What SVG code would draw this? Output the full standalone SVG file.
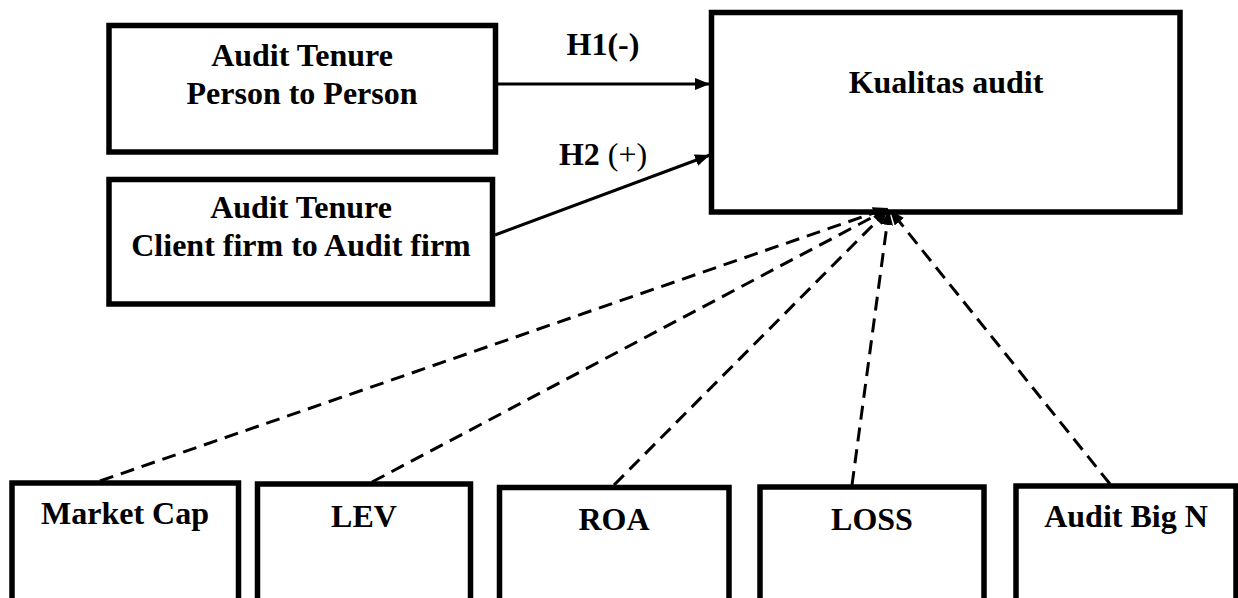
<svg xmlns="http://www.w3.org/2000/svg" width="1238" height="598" viewBox="0 0 1238 598">
<style>
.box{fill:#fff;stroke:#000;stroke-width:5.5}
.t{font-family:'Liberation Serif','Times New Roman','DejaVu Serif',serif;font-weight:700;font-size:32px;fill:#000;text-anchor:middle}
.solid{stroke:#000;stroke-width:3;fill:none}
.dash{stroke:#000;stroke-width:3;fill:none;stroke-dasharray:14 8}
</style>
<defs>
<marker id="ah" markerUnits="userSpaceOnUse" markerWidth="16" markerHeight="12" refX="15" refY="6" orient="auto">
<path d="M0,0 L15,6 L0,12 Z" fill="#000"/>
</marker>
</defs>
<rect width="1238" height="598" fill="#fff"/>
<g id="node-p2p">
<rect class="box" x="109" y="25.5" width="386.5" height="126.5"/>
<text class="t" x="302" y="66" font-family="Liberation Serif, serif">Audit Tenure</text>
<text class="t" x="302" y="104" font-family="Liberation Serif, serif">Person to Person</text>
</g>
<g id="node-c2a">
<rect class="box" x="109" y="179.5" width="383.5" height="124.5"/>
<text class="t" x="301" y="218">Audit Tenure</text>
<text class="t" x="301" y="256">Client firm to Audit firm</text>
</g>
<g id="node-kualitas">
<rect class="box" x="711.5" y="12.5" width="468.5" height="199.5"/>
<text class="t" x="946" y="93">Kualitas audit</text>
</g>
<g id="node-mcap">
<rect class="box" x="12" y="483" width="226.5" height="130"/>
<text class="t" x="125" y="524">Market Cap</text>
</g>
<g id="node-lev">
<rect class="box" x="257.5" y="484" width="213" height="130"/>
<text class="t" x="364" y="527">LEV</text>
</g>
<g id="node-roa">
<rect class="box" x="499.5" y="487.5" width="229.5" height="130"/>
<text class="t" x="614" y="530">ROA</text>
</g>
<g id="node-loss">
<rect class="box" x="760" y="487" width="224" height="130"/>
<text class="t" x="872" y="530">LOSS</text>
</g>
<g id="node-bign">
<rect class="box" x="1016" y="486" width="220" height="130"/>
<text class="t" x="1126" y="527">Audit Big N</text>
</g>
<g id="connectors">
<line class="solid" x1="497" y1="84" x2="710" y2="84" marker-end="url(#ah)"/>
<line class="solid" x1="495" y1="235" x2="710" y2="155" marker-end="url(#ah)"/>
<text class="t" x="603" y="55">H1(-)</text>
<text class="t" x="603" y="165">H2 <tspan font-weight="normal">(+)</tspan></text>
<line class="dash" x1="100" y1="481" x2="888" y2="208" marker-end="url(#ah)"/>
<line class="dash" x1="372" y1="482" x2="888" y2="209" marker-end="url(#ah)"/>
<line class="dash" x1="614" y1="485" x2="888" y2="210" marker-end="url(#ah)"/>
<line class="dash" x1="852" y1="485" x2="889" y2="210" marker-end="url(#ah)"/>
<line class="dash" x1="1110" y1="484" x2="890" y2="210" marker-end="url(#ah)"/>
</g>
</svg>
